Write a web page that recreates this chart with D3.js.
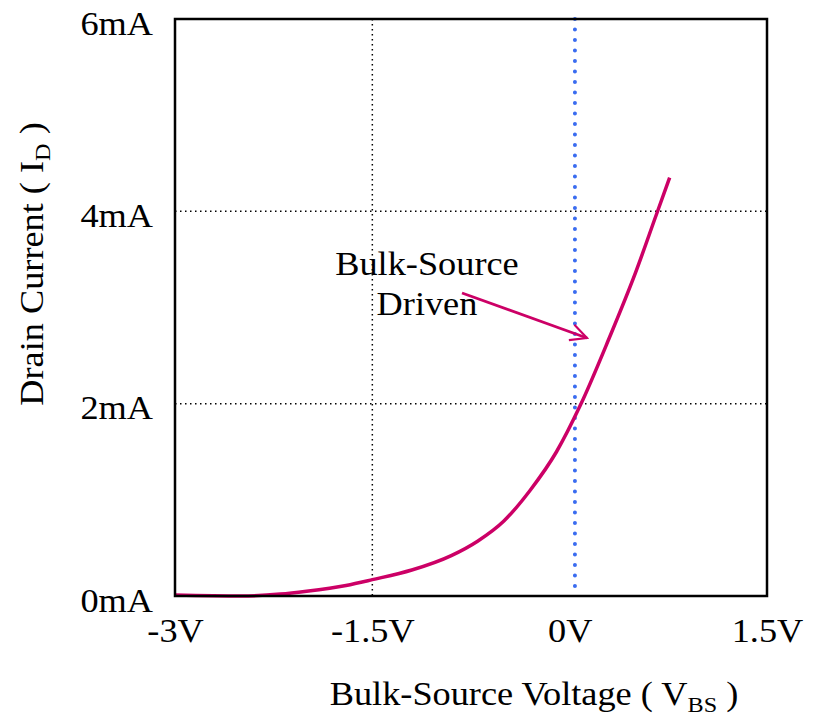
<!DOCTYPE html>
<html>
<head>
<meta charset="utf-8">
<script src="https://cdn.jsdelivr.net/npm/d3@7"></script>
<style>
  body { margin: 0; background: #fff; }
  text { font-family: "Liberation Serif", "Times New Roman", serif; fill: #000; }
</style>
</head>
<body>
<svg></svg>
<script>
// bulk-source voltage (V) vs drain current (mA)
const vbs = [-3, -2.5, -2.2, -2.0, -1.7, -1.5, -1.2, -0.9, -0.7, -0.5, -0.3, -0.1, 0.08, 0.3, 0.5, 0.66, 0.76];
const idrain = [0.01, 0.0, 0.02, 0.05, 0.11, 0.17, 0.27, 0.42, 0.57, 0.78, 1.1, 1.5, 1.98, 2.68, 3.36, 3.97, 4.35];
const xTicks = [-3, -1.5, 0, 1.5];
const xTickLabels = ['-3V', '-1.5V', '0V', '1.5V'];
const yTicks = [0, 2, 4, 6];
const yTickLabels = ['0mA', '2mA', '4mA', '6mA'];
const xGrid = [-1.5];
const yGrid = [2, 4];
const markerV = 0.04;

const width = 813;
const height = 718;
const margin = {left: 175, right: 46, top: 19, bottom: 122};
const w = width - margin.left - margin.right;
const h = height - margin.top - margin.bottom;
const fs = 33;
const stretch = 'scale(1.1,1)';

const svg = d3.select('svg').attr('width', width).attr('height', height);
const g = svg.append('g').attr('transform', 'translate(' + margin.left + ',' + margin.top + ')');

const xScale = d3.scaleLinear().domain([-3, 1.5]).range([0, w]);
const yScale = d3.scaleLinear().domain([0, 6]).range([h, 0]);

// grid
g.selectAll('.gx').data(xGrid).enter().append('line')
    .attr('x1', d => xScale(d)).attr('x2', d => xScale(d))
    .attr('y1', 0).attr('y2', h)
    .attr('stroke', '#000').attr('stroke-width', 1.5).attr('stroke-dasharray', '1.5,3.5');
g.selectAll('.gy').data(yGrid).enter().append('line')
    .attr('x1', 0).attr('x2', w)
    .attr('y1', d => yScale(d)).attr('y2', d => yScale(d))
    .attr('stroke', '#000').attr('stroke-width', 1.5).attr('stroke-dasharray', '1.5,3.5');

// blue marker line
g.append('line')
    .attr('x1', xScale(markerV)).attr('x2', xScale(markerV))
    .attr('y1', 0).attr('y2', h)
    .attr('stroke', '#3a6cf0').attr('stroke-width', 4)
    .attr('stroke-linecap', 'round').attr('stroke-dasharray', '0,10.5');

// curve
const line = d3.line().x((d, i) => xScale(vbs[i])).y(d => yScale(d)).curve(d3.curveMonotoneX);
g.append('path')
    .datum(idrain)
    .attr('fill', 'none')
    .attr('stroke', '#cc0066')
    .attr('stroke-width', 3.5)
    .attr('d', line);

// frame
g.append('rect')
    .attr('width', w).attr('height', h)
    .attr('fill', 'none').attr('stroke', '#000').attr('stroke-width', 2.5);

// ticks
const xAx = g.append('g')
    .attr('transform', 'translate(0,' + h + ')')
    .call(d3.axisBottom(xScale).tickValues(xTicks).tickSize(0)
      .tickFormat((d, i) => xTickLabels[i]));
xAx.select('.domain').remove();
xAx.selectAll('text')
    .attr('font-size', fs).attr('font-family', '"Liberation Serif", serif')
    .attr('dy', null).attr('y', 46).attr('transform', stretch);

const yAx = g.append('g')
    .call(d3.axisLeft(yScale).tickValues(yTicks).tickSize(0)
      .tickFormat((d, i) => yTickLabels[i]));
yAx.select('.domain').remove();
yAx.selectAll('text')
    .attr('font-size', fs).attr('font-family', '"Liberation Serif", serif')
    .attr('dy', null).attr('y', 15).attr('x', -22 / 1.1).attr('transform', stretch);

// annotation
const ann = svg.append('text').attr('font-size', fs).attr('text-anchor', 'middle');
ann.append('tspan').attr('x', 427 / 1.1).attr('y', 275).text('Bulk-Source');
ann.append('tspan').attr('x', 427 / 1.1).attr('y', 315).text('Driven');
ann.attr('transform', stretch);

svg.append('defs').append('marker')
    .attr('id', 'arr').attr('viewBox', '0 0 12 12').attr('refX', 11).attr('refY', 6)
    .attr('markerWidth', 7).attr('markerHeight', 7).attr('markerUnits', 'strokeWidth')
    .attr('orient', 'auto')
    .append('path').attr('d', 'M1,1 L11,6 L1,11').attr('fill', 'none')
    .attr('stroke', '#cc0066').attr('stroke-width', 1.3);

svg.append('line')
    .attr('x1', 462).attr('y1', 293)
    .attr('x2', 587).attr('y2', 338)
    .attr('stroke', '#cc0066').attr('stroke-width', 2.8)
    .attr('marker-end', 'url(#arr)');

// axis titles
const xt = svg.append('text').attr('x', 534 / 1.1).attr('y', 705)
    .attr('font-size', fs).attr('text-anchor', 'middle').attr('transform', stretch);
xt.append('tspan').text('Bulk-Source Voltage ( V');
xt.append('tspan').attr('font-size', 22).attr('dy', 7).text('BS');
xt.append('tspan').attr('dy', -7).text(' )');

const yt = svg.append('text').attr('transform', 'translate(43,264) rotate(-90) ' + stretch)
    .attr('font-size', fs).attr('text-anchor', 'middle');
yt.append('tspan').text('Drain Current ( I');
yt.append('tspan').attr('font-size', 22).attr('dy', 7).text('D');
yt.append('tspan').attr('dy', -7).text(' )');
</script>
</body>
</html>
